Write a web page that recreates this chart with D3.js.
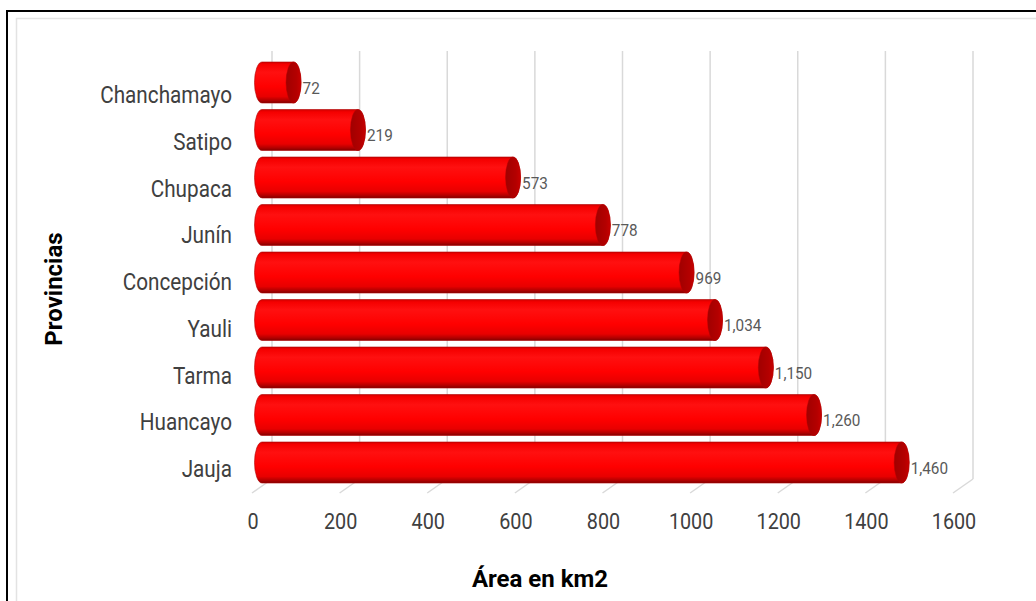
<!DOCTYPE html>
<html>
<head>
<meta charset="utf-8">
<script src="https://cdn.jsdelivr.net/npm/d3@7"></script>
<style>
  html, body { margin: 0; padding: 0; background: #fff; }
  svg { display: block; }
</style>
</head>
<body>
<svg id="chart" width="1036" height="601"></svg>
<script>
const categories = ["Chanchamayo", "Satipo", "Chupaca", "Junín", "Concepción", "Yauli", "Tarma", "Huancayo", "Jauja"];
const values = [72, 219, 573, 778, 969, 1034, 1150, 1260, 1460];
const valueLabels = ["72", "219", "573", "778", "969", "1,034", "1,150", "1,260", "1,460"];
const tickValues = [0, 200, 400, 600, 800, 1000, 1200, 1400, 1600];
const xTitle = "Área en km2";
const yTitle = "Provincias";

const svg = d3.select("#chart");
const W = 1036, H = 601;

// frames
svg.append("rect").attr("x", 7).attr("y", 11).attr("width", W + 20).attr("height", H + 20)
  .attr("fill", "none").attr("stroke", "#000").attr("stroke-width", 2);
svg.append("rect").attr("x", 16.5).attr("y", 18.5).attr("width", W + 20).attr("height", H + 20)
  .attr("fill", "none").attr("stroke", "#e3e3e3").attr("stroke-width", 1.5);

// scales (front plane) and 3D depth offsets
const x = d3.scaleLinear().domain([0, 1600]).range([252, 953]);
const back = { dx: 20, dy: -14 };
const mid = { dx: 10, dy: -7 };
const floorFront = 493;
const gridTop = 51;

const yBar = d3.scalePoint().domain(categories).range([82.5, 462.5]);
const yCat = d3.scalePoint().domain(categories).range([95, 469]);
const halfH = 20.5, rx = 7.5;

const defs = svg.append("defs");
const body = defs.append("linearGradient").attr("id", "bodyGrad")
  .attr("x1", 0).attr("y1", 0).attr("x2", 0).attr("y2", 1);
[[0, "#d00000"], [0.06, "#f50000"], [0.25, "#ff1010"], [0.6, "#ff0000"], [0.84, "#e80000"], [0.94, "#b00000"], [1, "#800000"]]
  .forEach(([o, c]) => body.append("stop").attr("offset", o).attr("stop-color", c));
const cap = defs.append("linearGradient").attr("id", "capGrad")
  .attr("x1", 0).attr("y1", 0).attr("x2", 1).attr("y2", 0);
[[0, "#a00000"], [0.7, "#b40000"], [1, "#c80000"]]
  .forEach(([o, c]) => cap.append("stop").attr("offset", o).attr("stop-color", c));

// gridlines on back wall + floor diagonals
const grid = svg.append("g");
tickValues.forEach(v => {
  const xf = x(v), xb = x(v) + back.dx;
  grid.append("line").attr("x1", xb).attr("x2", xb)
    .attr("y1", gridTop).attr("y2", floorFront + back.dy)
    .attr("stroke", "#d9d9d9").attr("stroke-width", 1.5);
  grid.append("line").attr("x1", xb).attr("y1", floorFront + back.dy)
    .attr("x2", xf).attr("y2", floorFront)
    .attr("stroke", "#d9d9d9").attr("stroke-width", 1.5);
});

// cylinders
const bars = svg.append("g");
categories.forEach((c, i) => {
  const cy = yBar(c);
  const x0 = x(0) + mid.dx, x1 = x(values[i]) + mid.dx;
  const t = cy - halfH, b = cy + halfH;
  const p = `M${x0},${t} L${x1},${t} A${rx},${halfH} 0 0 1 ${x1},${b} L${x0},${b} A${rx},${halfH} 0 0 1 ${x0},${t} Z`;
  bars.append("path").attr("d", p).attr("fill", "url(#bodyGrad)")
    .attr("stroke", "#b00000").attr("stroke-width", 0.6);
  bars.append("ellipse").attr("cx", x1).attr("cy", cy).attr("rx", rx).attr("ry", halfH)
    .attr("fill", "url(#capGrad)").attr("stroke", "#b00000").attr("stroke-width", 0.5);
  bars.append("text")
    .attr("transform", `translate(${x1 + rx + 1.5},${cy + 5.5}) scale(0.9,1)`)
    .attr("dy", "0.35em")
    .attr("font-family", "Roboto, 'Liberation Sans', sans-serif")
    .attr("font-size", 17).attr("fill", "#595959")
    .text(valueLabels[i]);
});

// category labels
const catG = svg.append("g");
categories.forEach(c => {
  catG.append("text")
    .attr("transform", `translate(232,${yCat(c)}) scale(0.9,1)`)
    .attr("dy", "0.35em").attr("text-anchor", "end")
    .attr("font-family", "Roboto, 'Liberation Sans', sans-serif")
    .attr("font-size", 23).attr("fill", "#404040")
    .text(c);
});

// x tick labels
const tickG = svg.append("g");
tickValues.forEach(v => {
  tickG.append("text")
    .attr("transform", `translate(${x(v) + 1},521) scale(0.9,1)`)
    .attr("dy", "0.35em").attr("text-anchor", "middle")
    .attr("font-family", "Roboto, 'Liberation Sans', sans-serif")
    .attr("font-size", 22).attr("fill", "#404040")
    .text(d3.format("d")(v));
});

// axis titles
svg.append("text").attr("x", 540).attr("y", 587).attr("text-anchor", "middle")
  .attr("font-family", "Roboto, 'Liberation Sans', sans-serif")
  .attr("font-weight", "bold").attr("font-size", 24).attr("fill", "#000")
  .text(xTitle);
svg.append("text").attr("transform", "translate(62,289) rotate(-90)")
  .attr("text-anchor", "middle")
  .attr("font-family", "Roboto, 'Liberation Sans', sans-serif")
  .attr("font-weight", "bold").attr("font-size", 24).attr("fill", "#000")
  .text(yTitle);
</script>
</body>
</html>
